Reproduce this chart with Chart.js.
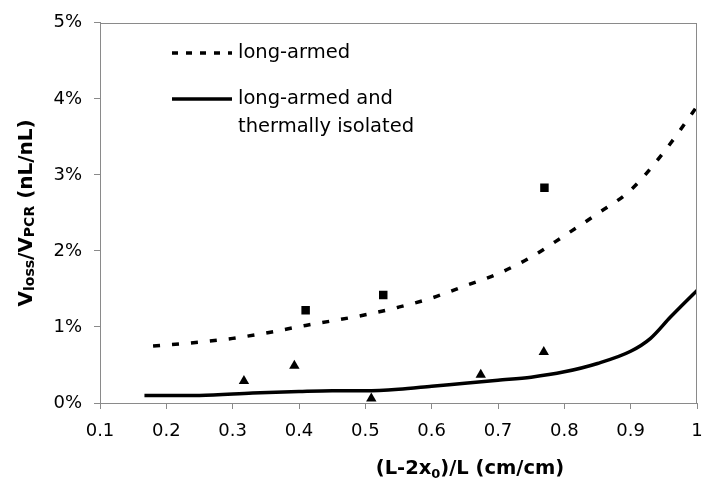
<!DOCTYPE html>
<html>
<head>
<meta charset="utf-8">
<script src="https://cdn.jsdelivr.net/npm/chart.js@4.4.1/dist/chart.umd.min.js"></script>
<style>
  html, body { margin: 0; padding: 0; background: #fff; }
  #wrap { width: 705px; height: 484px; }
</style>
</head>
<body>
<div id="wrap"><canvas id="myChart"></canvas></div>
<script>
// tick labels
const xTicks = [0.1, 0.2, 0.3, 0.4, 0.5, 0.6, 0.7, 0.8, 0.9, 1];
const yTicks = [0, 1, 2, 3, 4, 5];

// long-armed (dashed curve), y in %
const dashX = [0.18, 0.25, 0.3, 0.35, 0.41, 0.45, 0.5, 0.55, 0.6, 0.65, 0.7, 0.75, 0.8, 0.85, 0.9, 0.95, 1.0];
const dashY = [0.75, 0.80, 0.85, 0.92, 1.02, 1.08, 1.16, 1.26, 1.38, 1.54, 1.70, 1.92, 2.20, 2.49, 2.80, 3.30, 3.90];

// long-armed and thermally isolated (solid curve)
const solidX = [0.167, 0.25, 0.33, 0.4, 0.45, 0.5, 0.55, 0.6, 0.65, 0.7, 0.75, 0.8, 0.85, 0.9, 0.93, 0.96, 1.0];
const solidY = [0.10, 0.10, 0.13, 0.15, 0.16, 0.16, 0.18, 0.22, 0.26, 0.30, 0.34, 0.41, 0.52, 0.68, 0.85, 1.13, 1.48];

// measured points
const squareX = [0.41, 0.527, 0.77];
const squareY = [1.22, 1.42, 2.83];
const triX = [0.317, 0.393, 0.509, 0.674, 0.769];
const triY = [0.29, 0.49, 0.06, 0.37, 0.67];

const pts = (xs, ys) => xs.map((x, i) => ({ x: x, y: ys[i] }));
const FONT = 'DejaVu Sans, Verdana, sans-serif';
const AXIS = '#8a8a8a';

// plot box, legend and axis titles
const extras = {
  id: 'extras',
  afterDraw(chart) {
    const ctx = chart.ctx;
    const a = chart.chartArea;
    ctx.save();
    ctx.strokeStyle = AXIS;
    ctx.lineWidth = 1;
    ctx.strokeRect(Math.round(a.left) + 0.5, Math.round(a.top) + 0.5,
      Math.round(a.right - a.left) - 1, Math.round(a.bottom - a.top));

    // legend
    ctx.strokeStyle = '#000';
    ctx.lineWidth = 3.5;
    ctx.setLineDash([6, 8]);
    ctx.beginPath(); ctx.moveTo(172, 53); ctx.lineTo(232, 53); ctx.stroke();
    ctx.setLineDash([]);
    ctx.beginPath(); ctx.moveTo(172, 99); ctx.lineTo(232, 99); ctx.stroke();
    ctx.fillStyle = '#000';
    ctx.font = '19.5px ' + FONT;
    ctx.textBaseline = 'middle';
    ctx.textAlign = 'left';
    ctx.fillText('long-armed', 238, 53);
    ctx.fillText('long-armed and', 238, 99);
    ctx.fillText('thermally isolated', 238, 127);

    // x title
    const xParts = [['(L-2x', 'bold 19.5px ' + FONT, 0], ['0', 'bold 13px ' + FONT, 4], [')/L (cm/cm)', 'bold 19.5px ' + FONT, 0]];
    drawParts(ctx, xParts, 470, 467);

    // y title
    ctx.translate(25, (a.top + a.bottom) / 2);
    ctx.rotate(-Math.PI / 2);
    const big = 'bold 20px ' + FONT, small = 'bold 14px ' + FONT;
    const yParts = [['V', big, 0], ['loss', small, 2], ['/V', big, 0], ['PCR', small, 2], [' (nL/nL)', big, 0]];
    drawParts(ctx, yParts, 0, 0);
    ctx.restore();
  }
};

function drawParts(ctx, parts, cx, cy) {
  let w = 0;
  parts.forEach(p => { ctx.font = p[1]; w += ctx.measureText(p[0]).width; });
  let x = cx - w / 2;
  ctx.textAlign = 'left';
  ctx.textBaseline = 'alphabetic';
  parts.forEach(p => {
    ctx.font = p[1];
    ctx.fillText(p[0], x, cy + 7 + p[2]);
    x += ctx.measureText(p[0]).width;
  });
}

const ctx = document.getElementById('myChart');

new Chart(ctx, {
  type: 'scatter',
  data: {
    datasets: [
      {
        label: 'long-armed',
        data: pts(dashX, dashY),
        showLine: true,
        borderColor: '#000',
        borderWidth: 3.5,
        borderDash: [7, 12],
        pointRadius: 0,
        cubicInterpolationMode: 'monotone'
      },
      {
        label: 'long-armed and thermally isolated',
        data: pts(solidX, solidY),
        showLine: true,
        borderColor: '#000',
        borderWidth: 3.5,
        pointRadius: 0,
        cubicInterpolationMode: 'monotone'
      },
      {
        label: 'long-armed (measured)',
        data: pts(squareX, squareY),
        pointStyle: 'rect',
        pointRadius: 6,
        backgroundColor: '#000',
        borderColor: '#000',
        borderWidth: 0
      },
      {
        label: 'thermally isolated (measured)',
        data: pts(triX, triY),
        pointStyle: 'triangle',
        pointRadius: 6,
        backgroundColor: '#000',
        borderColor: '#000',
        borderWidth: 0
      }
    ]
  },
  options: {
    responsive: true,
    maintainAspectRatio: false,
    animation: false,
    layout: { padding: { top: 22, right: 0, bottom: 0, left: 0 } },
    plugins: {
      legend: { display: false },
      tooltip: { enabled: false }
    },
    scales: {
      x: {
        type: 'linear',
        min: 0.1,
        max: 1,
        afterBuildTicks: s => { s.ticks = xTicks.map(v => ({ value: v })); },
        afterFit: s => { s.height = 81; s.paddingRight = 8; },
        grid: { drawOnChartArea: false, drawTicks: true, tickLength: 6, color: AXIS },
        border: { color: AXIS },
        ticks: {
          color: '#000',
          font: { family: FONT, size: 18 },
          padding: 12,
          maxRotation: 0,
          callback: v => String(Math.round(v * 10) / 10)
        }
      },
      y: {
        min: 0,
        max: 5,
        afterBuildTicks: s => { s.ticks = yTicks.map(v => ({ value: v })); },
        afterFit: s => { s.width = 100; },
        grid: { drawOnChartArea: false, drawTicks: true, tickLength: 6, color: AXIS },
        border: { color: AXIS },
        ticks: {
          color: '#000',
          font: { family: FONT, size: 18 },
          padding: 12,
          callback: v => v + '%'
        }
      }
    }
  },
  plugins: [extras]
});
</script>
</body>
</html>
